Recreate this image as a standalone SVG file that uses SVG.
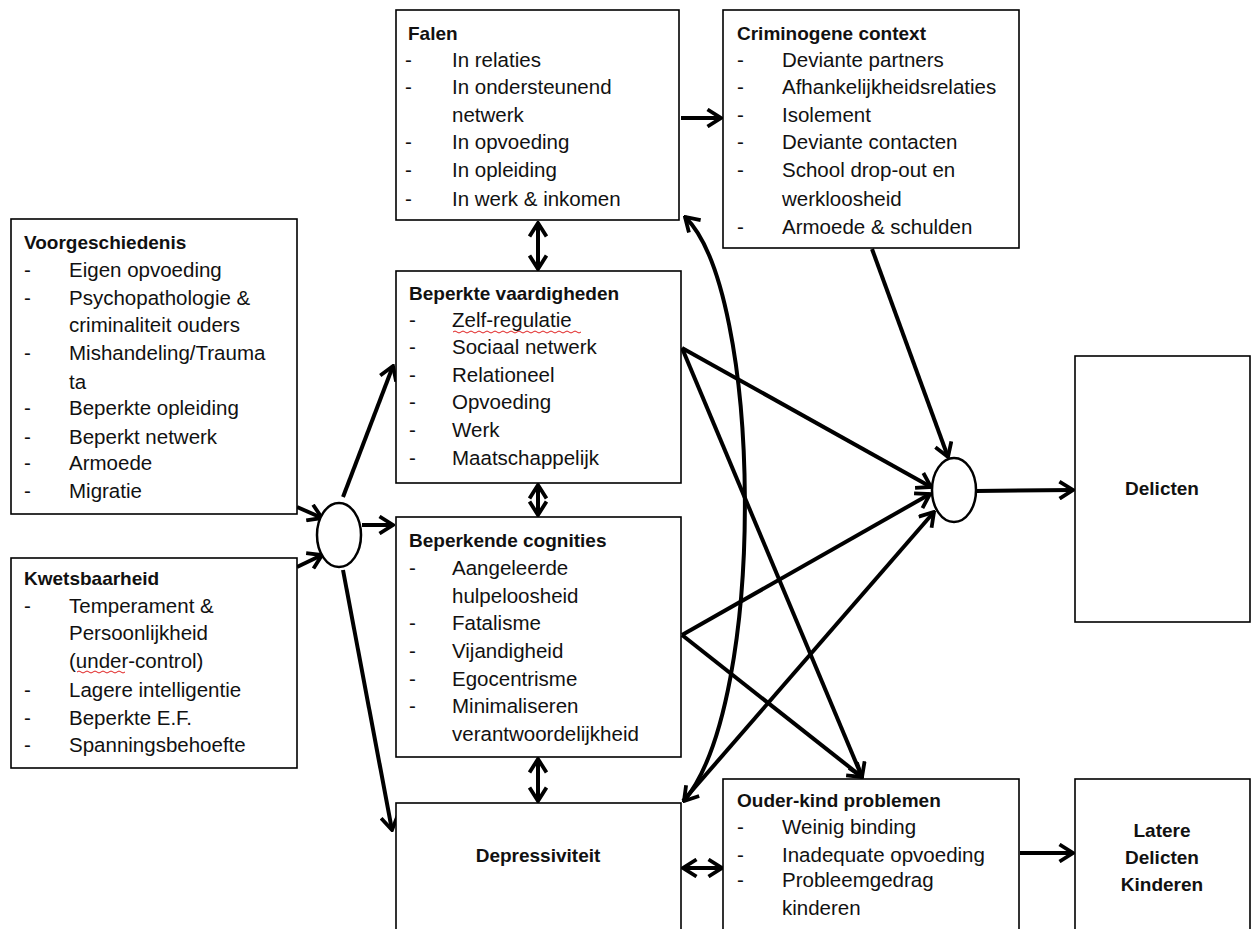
<svg xmlns="http://www.w3.org/2000/svg" width="1251" height="929" viewBox="0 0 1251 929">
<style>
.box{fill:#fff;stroke:#000;stroke-width:1.6}
.t{font-family:"Liberation Sans",Arial,sans-serif;font-size:20.5px;fill:#111}
.b{font-family:"Liberation Sans",Arial,sans-serif;font-size:19px;font-weight:bold;fill:#111}
.c{fill:none;stroke:#000;stroke-width:4}
.sq{fill:none;stroke:#e02020;stroke-width:1}
</style>
<defs>
<marker id="ah" viewBox="0 0 17 20" refX="15" refY="10" markerWidth="17" markerHeight="20" markerUnits="userSpaceOnUse" orient="auto-start-reverse">
<path d="M1.5,1.5 L15,10 L1.5,18.5" fill="none" stroke="#000" stroke-width="3.8"/>
</marker>
</defs>
<rect width="1251" height="929" fill="#fff"/>

<g id="connectors">
<line class="c" x1="297" y1="507" x2="322" y2="518" marker-end="url(#ah)"/>
<line class="c" x1="297" y1="567" x2="322" y2="555" marker-end="url(#ah)"/>
<line class="c" x1="343" y1="497" x2="393" y2="366" marker-end="url(#ah)"/>
<line class="c" x1="362" y1="525" x2="393" y2="525" marker-end="url(#ah)"/>
<line class="c" x1="343" y1="570" x2="392" y2="830" marker-end="url(#ah)"/>
<line class="c" x1="538" y1="223" x2="538" y2="269" marker-start="url(#ah)" marker-end="url(#ah)"/>
<line class="c" x1="538" y1="485" x2="538" y2="515" marker-start="url(#ah)" marker-end="url(#ah)"/>
<line class="c" x1="538" y1="759" x2="538" y2="801" marker-start="url(#ah)" marker-end="url(#ah)"/>
<line class="c" x1="681" y1="118" x2="721" y2="118" marker-end="url(#ah)"/>
<line class="c" x1="872" y1="249" x2="948" y2="457" marker-end="url(#ah)"/>
<line class="c" x1="682" y1="348" x2="931" y2="487" marker-end="url(#ah)"/>
<line class="c" x1="682" y1="348" x2="862" y2="777" marker-end="url(#ah)"/>
<line class="c" x1="682" y1="635" x2="930" y2="494" marker-end="url(#ah)"/>
<line class="c" x1="682" y1="635" x2="862" y2="777" marker-end="url(#ah)"/>
<line class="c" x1="683" y1="801" x2="934" y2="512" marker-end="url(#ah)"/>
<path class="c" d="M684,801 C768,700 762,290 685,217" marker-start="url(#ah)" marker-end="url(#ah)"/>
<line class="c" x1="976" y1="491" x2="1073" y2="490" marker-end="url(#ah)"/>
<line class="c" x1="683" y1="868" x2="722" y2="868" marker-start="url(#ah)" marker-end="url(#ah)"/>
<line class="c" x1="1020" y1="853" x2="1073" y2="853" marker-end="url(#ah)"/>
</g>

<g id="join1"><ellipse cx="339" cy="535" rx="22" ry="32" fill="#fff" stroke="#000" stroke-width="2.5"/></g>
<g id="join2"><ellipse cx="954" cy="490" rx="22" ry="32" fill="#fff" stroke="#000" stroke-width="2.5"/></g>

<g id="falen">
<rect class="box" x="396" y="10" width="283" height="210"/>
<text class="b" x="408" y="40">Falen</text>
<text class="t" x="405" y="67">-</text><text class="t" x="452" y="67">In relaties</text>
<text class="t" x="405" y="94">-</text><text class="t" x="452" y="94">In ondersteunend</text>
<text class="t" x="452" y="122">netwerk</text>
<text class="t" x="405" y="149">-</text><text class="t" x="452" y="149">In opvoeding</text>
<text class="t" x="405" y="177">-</text><text class="t" x="452" y="177">In opleiding</text>
<text class="t" x="405" y="206">-</text><text class="t" x="452" y="206">In werk &amp; inkomen</text>
</g>

<g id="criminogene">
<rect class="box" x="723" y="10" width="296" height="238"/>
<text class="b" x="737" y="40">Criminogene context</text>
<text class="t" x="737" y="67">-</text><text class="t" x="782" y="67">Deviante partners</text>
<text class="t" x="737" y="94">-</text><text class="t" x="782" y="94">Afhankelijkheidsrelaties</text>
<text class="t" x="737" y="122">-</text><text class="t" x="782" y="122">Isolement</text>
<text class="t" x="737" y="149">-</text><text class="t" x="782" y="149">Deviante contacten</text>
<text class="t" x="737" y="177">-</text><text class="t" x="782" y="177">School drop-out en</text>
<text class="t" x="782" y="206">werkloosheid</text>
<text class="t" x="737" y="234">-</text><text class="t" x="782" y="234">Armoede &amp; schulden</text>
</g>

<g id="voorgeschiedenis">
<rect class="box" x="11" y="219" width="286" height="295"/>
<text class="b" x="24" y="249">Voorgeschiedenis</text>
<text class="t" x="24" y="277">-</text><text class="t" x="69" y="277">Eigen opvoeding</text>
<text class="t" x="24" y="305">-</text><text class="t" x="69" y="305">Psychopathologie &amp;</text>
<text class="t" x="69" y="332">criminaliteit ouders</text>
<text class="t" x="24" y="360">-</text><text class="t" x="69" y="360">Mishandeling/Trauma</text>
<text class="t" x="69" y="389">ta</text>
<text class="t" x="24" y="415">-</text><text class="t" x="69" y="415">Beperkte opleiding</text>
<text class="t" x="24" y="444">-</text><text class="t" x="69" y="444">Beperkt netwerk</text>
<text class="t" x="24" y="470">-</text><text class="t" x="69" y="470">Armoede</text>
<text class="t" x="24" y="498">-</text><text class="t" x="69" y="498">Migratie</text>
</g>

<g id="kwetsbaarheid">
<rect class="box" x="11" y="558" width="286" height="210"/>
<text class="b" x="24" y="585">Kwetsbaarheid</text>
<text class="t" x="24" y="613">-</text><text class="t" x="69" y="613">Temperament &amp;</text>
<text class="t" x="69" y="640">Persoonlijkheid</text>
<text class="t" x="69" y="668">(under-control)</text>
<path class="sq" d="M77,672 q2,-2 4,0 t4,0 t4,0 t4,0 t4,0 t4,0 t4,0 t4,0 t4,0 t4,0 t4,0 t4,0"/>
<text class="t" x="24" y="697">-</text><text class="t" x="69" y="697">Lagere intelligentie</text>
<text class="t" x="24" y="725">-</text><text class="t" x="69" y="725">Beperkte E.F.</text>
<text class="t" x="24" y="752">-</text><text class="t" x="69" y="752">Spanningsbehoefte</text>
</g>

<g id="vaardigheden">
<rect class="box" x="396" y="271" width="285" height="212"/>
<text class="b" x="409" y="300">Beperkte vaardigheden</text>
<text class="t" x="409" y="327">-</text><text class="t" x="452" y="327">Zelf-regulatie</text>
<path class="sq" d="M453,332 q2,-2 4,0 t4,0 t4,0 t4,0 t4,0 t4,0 t4,0 t4,0 t4,0 t4,0 t4,0 t4,0 t4,0 t4,0 t4,0 t4,0 t4,0 t4,0 t4,0 t4,0 t4,0 t4,0 t4,0 t4,0 t4,0 t4,0 t4,0 t4,0 t4,0 t4,0 t4,0 t4,0"/>
<text class="t" x="409" y="354">-</text><text class="t" x="452" y="354">Sociaal netwerk</text>
<text class="t" x="409" y="382">-</text><text class="t" x="452" y="382">Relationeel</text>
<text class="t" x="409" y="409">-</text><text class="t" x="452" y="409">Opvoeding</text>
<text class="t" x="409" y="437">-</text><text class="t" x="452" y="437">Werk</text>
<text class="t" x="409" y="465">-</text><text class="t" x="452" y="465">Maatschappelijk</text>
</g>

<g id="cognities">
<rect class="box" x="396" y="517" width="285" height="240"/>
<text class="b" x="409" y="547">Beperkende cognities</text>
<text class="t" x="409" y="575">-</text><text class="t" x="452" y="575">Aangeleerde</text>
<text class="t" x="452" y="603">hulpeloosheid</text>
<text class="t" x="409" y="630">-</text><text class="t" x="452" y="630">Fatalisme</text>
<text class="t" x="409" y="658">-</text><text class="t" x="452" y="658">Vijandigheid</text>
<text class="t" x="409" y="686">-</text><text class="t" x="452" y="686">Egocentrisme</text>
<text class="t" x="409" y="713">-</text><text class="t" x="452" y="713">Minimaliseren</text>
<text class="t" x="452" y="741">verantwoordelijkheid</text>
</g>

<g id="depressiviteit">
<rect class="box" x="396" y="803" width="285" height="140"/>
<text class="b" x="538" y="862" text-anchor="middle">Depressiviteit</text>
</g>

<g id="ouderkind">
<rect class="box" x="723" y="779" width="296" height="164"/>
<text class="b" x="737" y="807">Ouder-kind problemen</text>
<text class="t" x="737" y="834">-</text><text class="t" x="782" y="834">Weinig binding</text>
<text class="t" x="737" y="862">-</text><text class="t" x="782" y="862">Inadequate opvoeding</text>
<text class="t" x="737" y="887">-</text><text class="t" x="782" y="887">Probleemgedrag</text>
<text class="t" x="782" y="915">kinderen</text>
</g>

<g id="delicten">
<rect class="box" x="1075" y="356" width="175" height="266"/>
<text class="b" x="1162" y="495" text-anchor="middle">Delicten</text>
</g>

<g id="latere">
<rect class="box" x="1075" y="779" width="175" height="164"/>
<text class="b" x="1162" y="837" text-anchor="middle">Latere</text>
<text class="b" x="1162" y="864" text-anchor="middle">Delicten</text>
<text class="b" x="1162" y="891" text-anchor="middle">Kinderen</text>
</g>
</svg>
